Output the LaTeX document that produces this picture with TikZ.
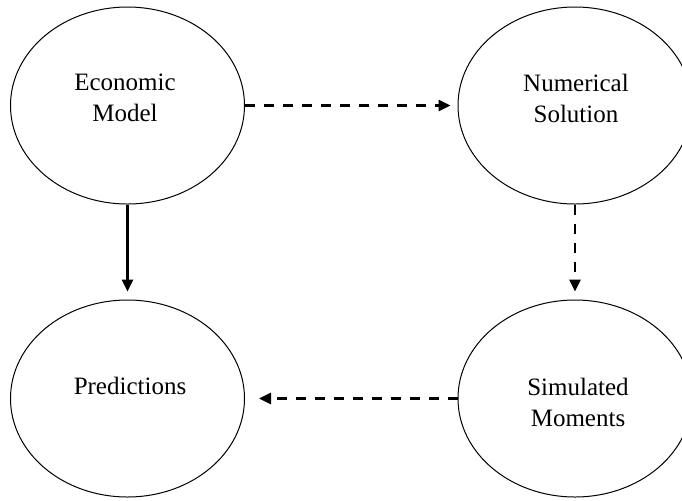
\documentclass[tikz,border=0pt]{standalone}
\usepackage{fontspec}
\setmainfont{Liberation Serif}
\usetikzlibrary{shapes.geometric,arrows.meta}
\begin{document}
\begin{tikzpicture}[x=0.5pt,y=-0.5pt,
  ell/.style={draw,ellipse,line width=0.5pt,inner sep=0pt,minimum width=117pt,minimum height=98.5pt},
  txt/.style={align=center,inner sep=0pt,font=\fontsize{12.5}{15.5}\selectfont},
  conn/.style={line width=1.35pt,-{Triangle[length=6pt,width=5.5pt]}},
  dsh/.style={dash pattern=on 5pt off 4.5pt}]
\useasboundingbox (0,0) rectangle (682,500);
\node[ell] (em) at (127.5,105.5) {};
\node[ell] (ns) at (575,105.5) {};
\node[ell] (pr) at (127.5,398.5) {};
\node[ell] (sm) at (575,398.5) {};
\node[txt] (emt) at (125,98) {Economic\\Model};
\node[txt] (nst) at (576,98) {Numerical\\Solution};
\node[txt] (prt) at (130,386) {Predictions};
\node[txt] (smt) at (578,402) {Simulated\\Moments};
\draw[conn,dsh,shorten >=3.5pt] (em.east) -- (ns.west);
\draw[conn,shorten >=4pt] (em) -- (pr);
\draw[conn,dsh,shorten >=4pt] (ns) -- (sm);
\draw[conn,dsh,shorten >=7pt] (sm) -- (pr);
\end{tikzpicture}
\end{document}
